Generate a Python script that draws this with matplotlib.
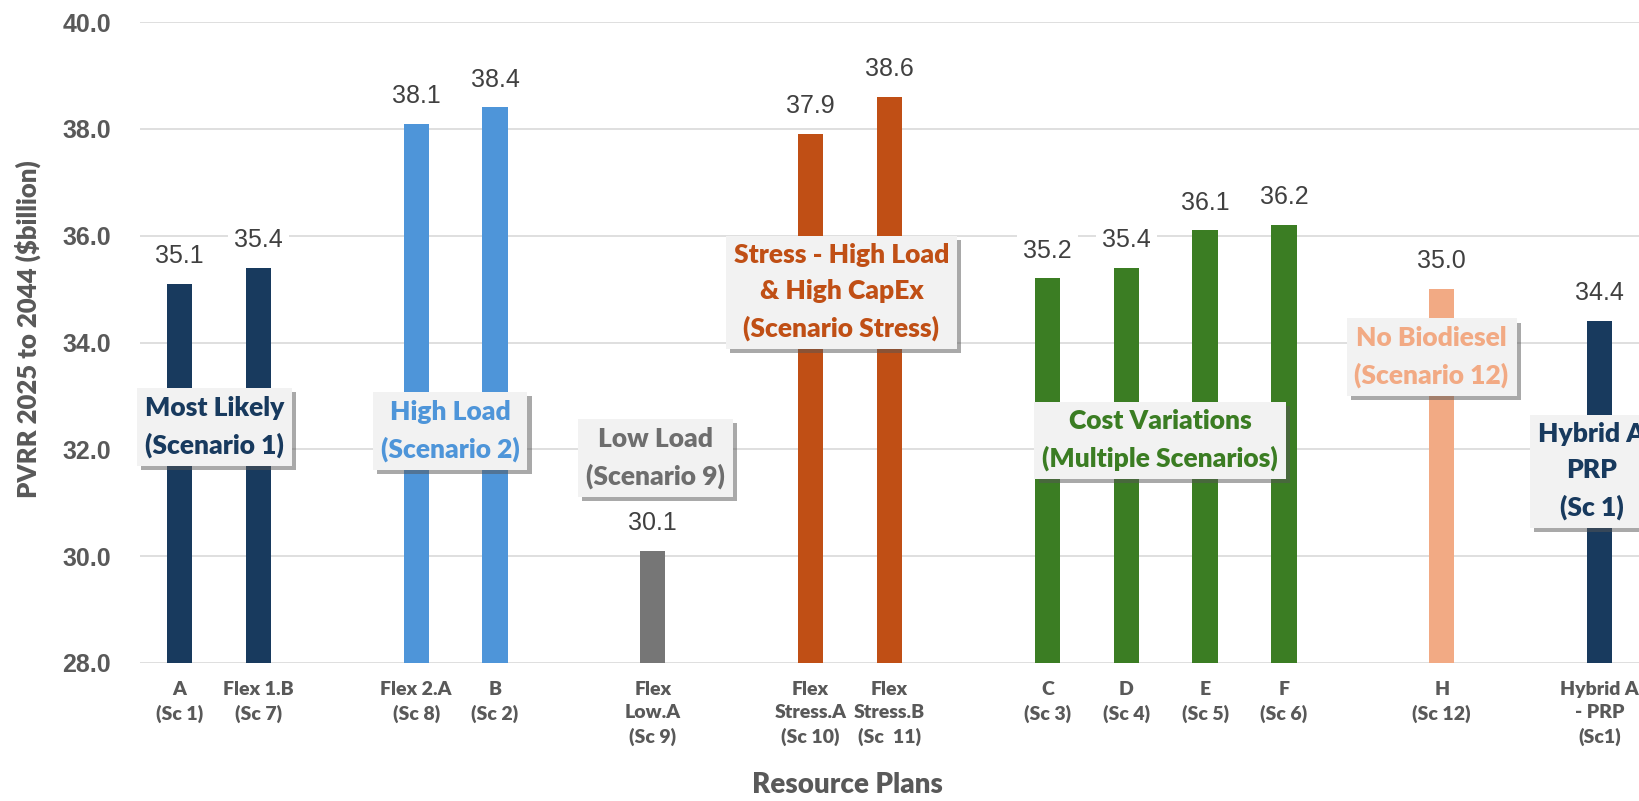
import matplotlib.pyplot as plt
import matplotlib.patheffects as pe

# resource plans, placed on a slot grid with empty slots between groups
plans = ['A\n(Sc 1)', 'Flex 1.B\n(Sc 7)', 'Flex 2.A\n(Sc 8)', 'B\n(Sc 2)',
         'Flex\nLow.A\n(Sc 9)', 'Flex\nStress.A\n(Sc 10)', 'Flex\nStress.B\n(Sc  11)',
         'C\n(Sc 3)', 'D\n(Sc 4)', 'E\n(Sc 5)', 'F\n(Sc 6)', 'H\n(Sc 12)',
         'Hybrid A\n- PRP\n(Sc1)']
slots = [0, 1, 3, 4, 6, 8, 9, 11, 12, 13, 14, 16, 18]
pvrr = [35.1, 35.4, 38.1, 38.4, 30.1, 37.9, 38.6, 35.2, 35.4, 36.1, 36.2, 35.0, 34.4]

navy = '#183A5E'
light_blue = '#4E95D9'
grey = '#767676'
orange = '#C04F15'
green = '#3B7D23'
peach = '#F2AA84'
bar_colors = [navy, navy, light_blue, light_blue, grey, orange, orange,
              green, green, green, green, peach, navy]

# scenario call-outs: text, colour, centre (slot, value)
callouts = [
    ('Most Likely\n(Scenario 1)', navy, 0.44, 32.42),
    ('High Load\n(Scenario 2)', light_blue, 3.43, 32.35),
    ('Low Load\n(Scenario 9)', '#6E6E6E', 6.03, 31.84),
    ('Stress - High Load\n& High CapEx\n(Scenario Stress)', orange, 8.39, 34.94),
    ('Cost Variations\n(Multiple Scenarios)', green, 12.43, 32.17),
    ('No Biodiesel\n(Scenario 12)', peach, 15.87, 33.73),
    ('Hybrid A\nPRP\n(Sc 1)', navy, 17.9, 31.59),
]

narrow = ['Lato', 'DejaVu Sans']
arial = ['Liberation Sans', 'DejaVu Sans']
text_grey = '#595959'

fig = plt.figure(figsize=(16.4, 8.01), dpi=100)
ax = fig.add_axes([0.0854, 0.1723, 0.914, 0.8002])

# bars start at zero; the axis floor at 28 clips them
ax.bar(slots, pvrr, width=0.32, color=bar_colors, zorder=2)
ax.set_ylim(28, 40)
ax.set_xlim(-0.5, 18.5)
ax.set_yticks([28, 30, 32, 34, 36, 38, 40])
ax.set_yticklabels(['{:.1f}'.format(v) for v in [28, 30, 32, 34, 36, 38, 40]],
                   family=arial, fontweight='bold', fontsize=18, color=text_grey)
ax.set_xticks(slots)
ax.set_xticklabels(plans, family=narrow, fontweight='heavy', fontsize=14,
                   color=text_grey, linespacing=1.45)
ax.tick_params(axis='y', length=0, pad=21)
ax.tick_params(axis='x', length=0, pad=13)
ax.grid(axis='y', color='#D9D9D9', linewidth=1.2, zorder=0)
for s in ax.spines.values():
    s.set_visible(False)

# value labels above each bar
for x, v in zip(slots, pvrr):
    ax.annotate('{:.1f}'.format(v), (x, v), xytext=(0, 15), textcoords='offset points',
                ha='center', va='baseline', fontsize=18, family=arial, color='#404040',
                bbox=dict(boxstyle='square,pad=0.25', fc='white', ec='none'), zorder=3)

for txt, col, x, y in callouts:
    t = ax.text(x, y, txt, ha='center', va='center', fontsize=19, family=narrow,
                fontweight='heavy', color=col, linespacing=1.6, zorder=4,
                bbox=dict(boxstyle='square,pad=0.3', fc='#F2F2F2', ec='none'))
    t.get_bbox_patch().set_path_effects([
        pe.SimplePatchShadow(offset=(3, -3), shadow_rgbFace='#555555', alpha=0.5),
        pe.Normal()])

fig.text(0.017, 0.589, 'PVRR 2025 to 2044 ($billion)', rotation=90, ha='center',
         va='center', fontsize=18.5, family=narrow, fontweight='heavy', color=text_grey)
fig.text(0.5165, 0.02, 'Resource Plans', ha='center', va='center', fontsize=20,
         family=narrow, fontweight='heavy', color=text_grey)

fig.savefig('out.png', dpi=100)
